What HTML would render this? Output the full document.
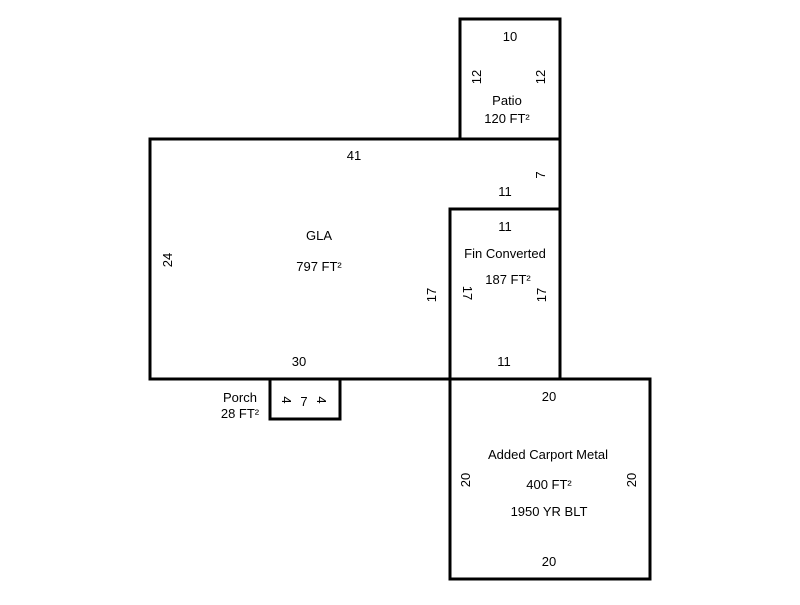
<!DOCTYPE html>
<html><head><meta charset="utf-8"><style>
html,body{margin:0;padding:0;background:#fff;}
svg text{font-family:"Liberation Sans",Arial,sans-serif;font-size:13px;fill:#000;}
</style></head><body>
<svg width="800" height="600" xmlns="http://www.w3.org/2000/svg">
<g fill="none" stroke="#000" stroke-width="3">
<rect x="460" y="19" width="100" height="120"/>
<polygon points="150,139 560,139 560,209 450,209 450,379 150,379"/>
<rect x="450" y="209" width="110" height="170"/>
<rect x="450" y="379" width="200" height="200"/>
<rect x="270" y="379" width="70" height="40"/>
</g>
<g text-anchor="middle">
<text x="510" y="41">10</text>
<text x="507" y="105">Patio</text>
<text x="507" y="123">120 FT²</text>
<text x="354" y="160">41</text>
<text x="505" y="196">11</text>
<text x="505" y="231">11</text>
<text x="319" y="240">GLA</text>
<text x="319" y="271">797 FT²</text>
<text x="505" y="258">Fin Converted</text>
<text x="508" y="284">187 FT²</text>
<text x="299" y="366">30</text>
<text x="504" y="366">11</text>
<text x="240" y="402">Porch</text>
<text x="240" y="418">28 FT²</text>
<text x="304" y="406">7</text>
<text x="549" y="401">20</text>
<text x="548" y="459">Added Carport Metal</text>
<text x="549" y="489">400 FT²</text>
<text x="549" y="516">1950 YR BLT</text>
<text x="549" y="566">20</text>
<text transform="translate(481,77) rotate(-90)">12</text>
<text transform="translate(545,77) rotate(-90)">12</text>
<text transform="translate(545,175) rotate(-90)">7</text>
<text transform="translate(172,260) rotate(-90)">24</text>
<text transform="translate(436,295) rotate(-90)">17</text>
<text transform="translate(463,293) rotate(90)">17</text>
<text transform="translate(546,295) rotate(-90)">17</text>
<text transform="translate(470,480) rotate(-90)">20</text>
<text transform="translate(636,480) rotate(-90)">20</text>
<text transform="translate(282,400) rotate(90)">4</text>
<text transform="translate(317,400) rotate(90)">4</text>
</g>
</svg>
</body></html>
